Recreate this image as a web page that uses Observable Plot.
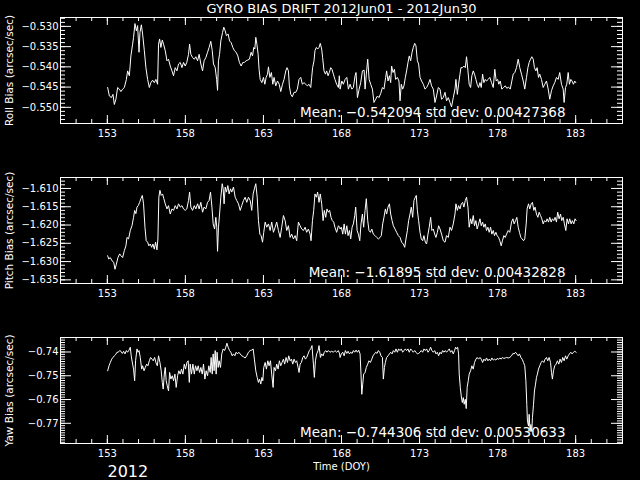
<!DOCTYPE html>
<html><head><meta charset="utf-8">
<script src="https://cdn.jsdelivr.net/npm/d3@7"></script>
<script src="https://cdn.jsdelivr.net/npm/@observablehq/plot@0.6"></script>
<style>
html,body{margin:0;padding:0;background:#000;}
#chart{width:640px;height:480px;background:#000;overflow:hidden;}
#chart svg{display:block;overflow:visible;}
</style></head><body><div id="chart"></div>
<script>
const title = "GYRO BIAS DRIFT 2012Jun01 - 2012Jun30";
const xLabel = "Time (DOY)";
const yearLabel = "2012";
const panelLabels = ["Roll Bias (arcsec/sec)", "Pitch Bias (arcsec/sec)", "Yaw Bias (arcsec/sec)"];
const means = [-0.542094, -1.61895, -0.744306];
const stdDevs = ["0.00427368", "0.00432828", "0.00530633"];
const xDomain = [150, 186];
const xMajorTicks = [153, 158, 163, 168, 173, 178, 183];
const xMinorTicks = [151,152,153,154,155,156,157,158,159,160,161,162,163,164,165,166,167,168,169,170,171,172,173,174,175,176,177,178,179,180,181,182,183,184,185];

const rollDomain = [-0.554, -0.5278];
const rollMajor = [-0.550, -0.545, -0.540, -0.535, -0.530];
const pitchDomain = [-1.636, -1.607];
const pitchMajor = [-1.635, -1.630, -1.625, -1.620, -1.615, -1.610];
const yawDomain = [-0.7785, -0.7339];
const yawMajor = [-0.77, -0.76, -0.75, -0.74];

// [day of year, bias]
const rollSeries = [[153.02,-0.5451],[153.13,-0.5472],[153.26,-0.5476],[153.36,-0.5468],[153.45,-0.5493],[153.55,-0.5480],[153.66,-0.5451],[153.77,-0.5455],[153.87,-0.5461],[153.98,-0.5455],[154.09,-0.5451],[154.22,-0.5431],[154.30,-0.5410],[154.41,-0.5422],[154.51,-0.5373],[154.62,-0.5344],[154.68,-0.5327],[154.77,-0.5293],[154.86,-0.5311],[154.94,-0.5298],[155.03,-0.5364],[155.09,-0.5315],[155.18,-0.5296],[155.26,-0.5319],[155.37,-0.5360],[155.47,-0.5402],[155.58,-0.5431],[155.69,-0.5451],[155.79,-0.5439],[155.90,-0.5433],[156.01,-0.5439],[156.11,-0.5431],[156.22,-0.5443],[156.28,-0.5344],[156.35,-0.5331],[156.43,-0.5352],[156.52,-0.5334],[156.60,-0.5344],[156.71,-0.5360],[156.82,-0.5385],[156.92,-0.5381],[157.03,-0.5398],[157.14,-0.5410],[157.24,-0.5422],[157.35,-0.5402],[157.46,-0.5410],[157.56,-0.5393],[157.67,-0.5389],[157.78,-0.5402],[157.88,-0.5389],[157.99,-0.5398],[158.09,-0.5389],[158.20,-0.5369],[158.27,-0.5344],[158.35,-0.5369],[158.46,-0.5377],[158.57,-0.5381],[158.67,-0.5375],[158.78,-0.5385],[158.88,-0.5369],[158.99,-0.5393],[159.10,-0.5410],[159.20,-0.5385],[159.31,-0.5377],[159.42,-0.5364],[159.52,-0.5352],[159.63,-0.5337],[159.72,-0.5360],[159.80,-0.5393],[159.91,-0.5402],[160.00,-0.5431],[160.06,-0.5458],[160.12,-0.5385],[160.19,-0.5369],[160.27,-0.5336],[160.38,-0.5315],[160.46,-0.5302],[160.55,-0.5311],[160.63,-0.5323],[160.74,-0.5319],[160.83,-0.5336],[160.93,-0.5340],[161.04,-0.5352],[161.14,-0.5360],[161.25,-0.5364],[161.36,-0.5373],[161.46,-0.5389],[161.57,-0.5398],[161.68,-0.5389],[161.78,-0.5389],[161.89,-0.5385],[162.00,-0.5383],[162.10,-0.5381],[162.21,-0.5364],[162.30,-0.5373],[162.38,-0.5352],[162.45,-0.5356],[162.51,-0.5327],[162.58,-0.5344],[162.66,-0.5369],[162.72,-0.5406],[162.79,-0.5431],[162.90,-0.5439],[163.00,-0.5426],[163.09,-0.5443],[163.17,-0.5426],[163.26,-0.5418],[163.32,-0.5400],[163.41,-0.5426],[163.51,-0.5414],[163.60,-0.5443],[163.68,-0.5426],[163.79,-0.5447],[163.90,-0.5435],[164.01,-0.5443],[164.11,-0.5461],[164.22,-0.5443],[164.32,-0.5431],[164.43,-0.5410],[164.51,-0.5402],[164.60,-0.5410],[164.66,-0.5447],[164.75,-0.5468],[164.85,-0.5474],[164.96,-0.5463],[165.07,-0.5463],[165.17,-0.5455],[165.28,-0.5431],[165.39,-0.5426],[165.49,-0.5443],[165.60,-0.5439],[165.71,-0.5443],[165.81,-0.5447],[165.92,-0.5443],[166.03,-0.5451],[166.09,-0.5426],[166.15,-0.5402],[166.24,-0.5385],[166.30,-0.5360],[166.39,-0.5352],[166.47,-0.5356],[166.56,-0.5352],[166.64,-0.5342],[166.73,-0.5356],[166.79,-0.5377],[166.88,-0.5410],[166.97,-0.5418],[167.05,-0.5410],[167.14,-0.5422],[167.22,-0.5414],[167.31,-0.5402],[167.39,-0.5406],[167.48,-0.5418],[167.58,-0.5431],[167.69,-0.5443],[167.80,-0.5451],[167.86,-0.5422],
[167.91,-0.5455],[168.02,-0.5435],[168.12,-0.5443],[168.23,-0.5431],[168.34,-0.5426],[168.44,-0.5455],[168.55,-0.5443],[168.66,-0.5455],[168.76,-0.5451],[168.87,-0.5422],[168.93,-0.5414],[169.02,-0.5476],[169.13,-0.5455],[169.23,-0.5439],[169.34,-0.5410],[169.45,-0.5408],[169.51,-0.5455],[169.59,-0.5418],[169.68,-0.5381],[169.77,-0.5431],[169.87,-0.5443],[169.98,-0.5455],[170.08,-0.5488],[170.19,-0.5480],[170.30,-0.5472],[170.40,-0.5476],[170.51,-0.5466],[170.62,-0.5451],[170.72,-0.5455],[170.83,-0.5426],[170.89,-0.5410],[170.98,-0.5435],[171.07,-0.5422],[171.15,-0.5439],[171.21,-0.5398],[171.30,-0.5414],[171.39,-0.5406],[171.47,-0.5431],[171.58,-0.5426],[171.68,-0.5435],[171.75,-0.5484],[171.83,-0.5443],[171.92,-0.5455],[172.00,-0.5447],[172.09,-0.5426],[172.17,-0.5410],[172.26,-0.5389],[172.34,-0.5373],[172.43,-0.5385],[172.52,-0.5364],[172.60,-0.5352],[172.69,-0.5342],[172.77,-0.5348],[172.86,-0.5385],[172.94,-0.5393],[173.03,-0.5426],[173.13,-0.5435],[173.24,-0.5443],[173.35,-0.5455],[173.45,-0.5451],[173.56,-0.5443],[173.67,-0.5431],[173.77,-0.5447],[173.88,-0.5455],[173.99,-0.5488],[174.09,-0.5472],[174.20,-0.5451],[174.31,-0.5455],[174.41,-0.5480],[174.52,-0.5476],[174.63,-0.5463],[174.73,-0.5484],[174.84,-0.5476],[174.95,-0.5488],[175.05,-0.5499],[175.16,-0.5476],[175.27,-0.5455],[175.33,-0.5431],[175.42,-0.5468],[175.50,-0.5443],[175.59,-0.5418],[175.65,-0.5402],[175.74,-0.5402],[175.84,-0.5398],[175.93,-0.5402],[176.01,-0.5375],[176.10,-0.5410],[176.18,-0.5443],[176.27,-0.5451],[176.35,-0.5422],[176.44,-0.5410],[176.52,-0.5418],[176.61,-0.5431],[176.69,-0.5443],[176.78,-0.5451],[176.87,-0.5439],[176.95,-0.5451],[177.04,-0.5418],[177.12,-0.5439],[177.21,-0.5431],[177.29,-0.5435],[177.40,-0.5431],[177.50,-0.5426],[177.61,-0.5439],[177.72,-0.5451],[177.82,-0.5406],[177.91,-0.5435],[178.00,-0.5431],[178.08,-0.5443],[178.17,-0.5435],[178.27,-0.5455],[178.38,-0.5451],[178.49,-0.5447],[178.59,-0.5453],[178.70,-0.5450],[178.81,-0.5455],[178.91,-0.5435],[179.00,-0.5418],[179.10,-0.5414],[179.21,-0.5402],[179.32,-0.5381],[179.42,-0.5402],[179.53,-0.5418],[179.64,-0.5435],[179.74,-0.5455],[179.85,-0.5426],[179.94,-0.5402],[180.02,-0.5389],[180.11,-0.5381],[180.19,-0.5375],[180.28,-0.5381],[180.36,-0.5402],[180.45,-0.5410],[180.53,-0.5402],[180.62,-0.5426],[180.70,-0.5418],[180.81,-0.5431],[180.92,-0.5451],[181.02,-0.5443],[181.13,-0.5435],[181.24,-0.5455],[181.34,-0.5480],[181.45,-0.5459],[181.56,-0.5447],[181.66,-0.5439],[181.77,-0.5426],[181.88,-0.5431],[181.98,-0.5414],[182.09,-0.5443],[182.20,-0.5455],[182.26,-0.5488],[182.35,-0.5451],[182.43,-0.5443],[182.52,-0.5414],[182.60,-0.5443],[182.69,-0.5431],[182.77,-0.5435],[182.86,-0.5443],[182.94,-0.5435],[183.01,-0.5439]];

const pitchSeries = [[153.02,-1.6284],[153.09,-1.6293],[153.19,-1.6289],[153.30,-1.6298],[153.41,-1.6302],[153.49,-1.6321],[153.58,-1.6307],[153.68,-1.6289],[153.79,-1.6279],[153.87,-1.6284],[153.98,-1.6289],[154.09,-1.6270],[154.19,-1.6257],[154.26,-1.6234],[154.36,-1.6238],[154.47,-1.6215],[154.58,-1.6202],[154.68,-1.6179],[154.75,-1.6160],[154.83,-1.6169],[154.90,-1.6151],[154.98,-1.6147],[155.07,-1.6138],[155.15,-1.6128],[155.24,-1.6119],[155.32,-1.6142],[155.41,-1.6206],[155.49,-1.6243],[155.58,-1.6247],[155.66,-1.6257],[155.75,-1.6252],[155.84,-1.6261],[155.92,-1.6252],[156.01,-1.6266],[156.09,-1.6247],[156.18,-1.6268],[156.24,-1.6238],[156.30,-1.6124],[156.37,-1.6105],[156.45,-1.6119],[156.54,-1.6115],[156.62,-1.6128],[156.71,-1.6142],[156.82,-1.6156],[156.92,-1.6147],[157.03,-1.6170],[157.14,-1.6156],[157.24,-1.6160],[157.35,-1.6147],[157.46,-1.6156],[157.56,-1.6142],[157.67,-1.6151],[157.78,-1.6147],[157.88,-1.6156],[157.99,-1.6160],[158.09,-1.6156],[158.20,-1.6133],[158.27,-1.6110],[158.35,-1.6151],[158.46,-1.6160],[158.57,-1.6147],[158.67,-1.6156],[158.78,-1.6142],[158.88,-1.6156],[158.99,-1.6138],[159.10,-1.6165],[159.20,-1.6151],[159.31,-1.6156],[159.42,-1.6138],[159.52,-1.6133],[159.61,-1.6110],[159.70,-1.6151],[159.78,-1.6197],[159.87,-1.6211],[159.95,-1.6179],[160.01,-1.6206],[160.06,-1.6272],[160.12,-1.6206],[160.19,-1.6170],[160.27,-1.6124],[160.36,-1.6087],[160.42,-1.6101],[160.48,-1.6142],[160.55,-1.6096],[160.63,-1.6110],[160.72,-1.6092],[160.80,-1.6115],[160.89,-1.6101],[160.97,-1.6110],[161.08,-1.6096],[161.19,-1.6124],[161.29,-1.6133],[161.40,-1.6142],[161.51,-1.6160],[161.61,-1.6147],[161.72,-1.6133],[161.83,-1.6124],[161.93,-1.6138],[162.04,-1.6124],[162.15,-1.6133],[162.25,-1.6160],[162.34,-1.6115],[162.42,-1.6101],[162.51,-1.6087],[162.60,-1.6124],[162.68,-1.6188],[162.77,-1.6225],[162.85,-1.6229],[162.94,-1.6247],[163.02,-1.6220],[163.11,-1.6192],[163.21,-1.6206],[163.32,-1.6197],[163.43,-1.6215],[163.53,-1.6192],[163.64,-1.6220],[163.75,-1.6206],[163.85,-1.6192],[163.96,-1.6215],[164.07,-1.6234],[164.17,-1.6206],[164.28,-1.6174],[164.39,-1.6188],[164.49,-1.6215],[164.60,-1.6202],[164.71,-1.6234],[164.81,-1.6225],[164.92,-1.6238],[165.03,-1.6229],[165.13,-1.6243],[165.24,-1.6192],[165.35,-1.6202],[165.45,-1.6211],[165.56,-1.6215],[165.67,-1.6206],[165.77,-1.6220],[165.88,-1.6211],[165.99,-1.6225],[166.05,-1.6243],[166.14,-1.6188],[166.22,-1.6160],[166.30,-1.6115],[166.39,-1.6124],[166.47,-1.6110],[166.56,-1.6138],[166.64,-1.6115],[166.73,-1.6142],[166.82,-1.6188],[166.90,-1.6160],[166.99,-1.6179],[167.07,-1.6156],[167.16,-1.6165],[167.24,-1.6160],[167.33,-1.6179],[167.41,-1.6188],[167.50,-1.6192],[167.58,-1.6206],[167.69,-1.6220],[167.80,-1.6202],[167.88,-1.6206],
[167.91,-1.6211],[167.99,-1.6206],[168.08,-1.6225],[168.17,-1.6197],[168.25,-1.6225],[168.34,-1.6202],[168.42,-1.6229],[168.51,-1.6215],[168.59,-1.6238],[168.68,-1.6206],[168.76,-1.6197],[168.85,-1.6174],[168.91,-1.6151],[169.00,-1.6215],[169.08,-1.6225],[169.17,-1.6243],[169.25,-1.6197],[169.34,-1.6170],[169.42,-1.6206],[169.51,-1.6160],[169.59,-1.6128],[169.68,-1.6188],[169.76,-1.6215],[169.85,-1.6220],[169.94,-1.6211],[170.04,-1.6225],[170.15,-1.6229],[170.26,-1.6234],[170.36,-1.6238],[170.47,-1.6234],[170.55,-1.6229],[170.64,-1.6197],[170.72,-1.6179],[170.81,-1.6156],[170.89,-1.6170],[170.98,-1.6151],[171.07,-1.6142],[171.15,-1.6170],[171.24,-1.6188],[171.32,-1.6202],[171.43,-1.6211],[171.53,-1.6220],[171.64,-1.6229],[171.75,-1.6234],[171.85,-1.6247],[171.96,-1.6252],[172.05,-1.6261],[172.13,-1.6238],[172.22,-1.6215],[172.30,-1.6188],[172.39,-1.6170],[172.47,-1.6151],[172.56,-1.6179],[172.64,-1.6133],[172.73,-1.6124],[172.79,-1.6119],[172.86,-1.6160],[172.94,-1.6188],[173.03,-1.6220],[173.11,-1.6238],[173.20,-1.6243],[173.28,-1.6229],[173.37,-1.6247],[173.45,-1.6252],[173.54,-1.6225],[173.62,-1.6206],[173.71,-1.6179],[173.79,-1.6215],[173.88,-1.6211],[173.97,-1.6225],[174.05,-1.6234],[174.14,-1.6220],[174.22,-1.6202],[174.31,-1.6211],[174.41,-1.6225],[174.52,-1.6243],[174.63,-1.6247],[174.73,-1.6229],[174.84,-1.6234],[174.95,-1.6206],[175.05,-1.6215],[175.16,-1.6197],[175.27,-1.6170],[175.33,-1.6142],[175.42,-1.6160],[175.50,-1.6147],[175.59,-1.6156],[175.67,-1.6142],[175.76,-1.6138],[175.84,-1.6151],[175.93,-1.6133],[176.01,-1.6124],[176.10,-1.6151],[176.18,-1.6206],[176.27,-1.6183],[176.35,-1.6197],[176.44,-1.6174],[176.52,-1.6202],[176.61,-1.6188],[176.69,-1.6211],[176.78,-1.6197],[176.87,-1.6183],[176.95,-1.6202],[177.04,-1.6192],[177.12,-1.6206],[177.21,-1.6197],[177.29,-1.6215],[177.38,-1.6206],[177.46,-1.6220],[177.55,-1.6206],[177.63,-1.6225],[177.72,-1.6215],[177.80,-1.6229],[177.89,-1.6220],[177.97,-1.6229],[178.06,-1.6234],[178.14,-1.6243],[178.23,-1.6257],[178.31,-1.6243],[178.40,-1.6229],[178.49,-1.6234],[178.57,-1.6225],[178.68,-1.6215],[178.78,-1.6220],[178.89,-1.6192],[178.98,-1.6183],[179.06,-1.6197],[179.15,-1.6188],[179.23,-1.6179],[179.32,-1.6206],[179.40,-1.6220],[179.49,-1.6234],[179.57,-1.6238],[179.66,-1.6243],[179.74,-1.6238],[179.83,-1.6197],[179.89,-1.6156],[179.98,-1.6142],[180.06,-1.6156],[180.15,-1.6142],[180.23,-1.6138],[180.32,-1.6160],[180.40,-1.6151],[180.49,-1.6170],[180.58,-1.6179],[180.66,-1.6165],[180.75,-1.6174],[180.83,-1.6183],[180.92,-1.6197],[181.00,-1.6188],[181.09,-1.6192],[181.17,-1.6183],[181.26,-1.6192],[181.34,-1.6179],[181.43,-1.6192],[181.51,-1.6183],[181.60,-1.6188],[181.68,-1.6179],[181.77,-1.6192],[181.85,-1.6165],[181.94,-1.6183],[182.03,-1.6170],[182.11,-1.6188],[182.20,-1.6179],[182.28,-1.6197],[182.37,-1.6215],[182.45,-1.6183],[182.54,-1.6197],[182.62,-1.6183],[182.71,-1.6197],[182.79,-1.6188],[182.88,-1.6197],[182.96,-1.6183],[183.03,-1.6188]];

const yawSeries = [[153.02,-0.7479],[153.11,-0.7458],[153.19,-0.7444],[153.28,-0.7430],[153.36,-0.7423],[153.45,-0.7416],[153.53,-0.7411],[153.62,-0.7401],[153.70,-0.7401],[153.79,-0.7394],[153.87,-0.7397],[153.96,-0.7406],[154.04,-0.7397],[154.13,-0.7408],[154.22,-0.7394],[154.30,-0.7401],[154.39,-0.7392],[154.47,-0.7380],[154.53,-0.7416],[154.62,-0.7451],[154.68,-0.7472],[154.75,-0.7521],[154.81,-0.7437],[154.90,-0.7387],[154.96,-0.7401],[155.03,-0.7394],[155.11,-0.7423],[155.20,-0.7472],[155.26,-0.7458],[155.35,-0.7479],[155.43,-0.7465],[155.52,-0.7451],[155.60,-0.7458],[155.69,-0.7437],[155.77,-0.7423],[155.86,-0.7430],[155.94,-0.7437],[156.03,-0.7423],[156.11,-0.7444],[156.20,-0.7458],[156.28,-0.7416],[156.37,-0.7444],[156.45,-0.7479],[156.52,-0.7528],[156.58,-0.7556],[156.65,-0.7493],[156.71,-0.7465],[156.77,-0.7521],[156.84,-0.7542],[156.92,-0.7564],[156.99,-0.7486],[157.07,-0.7514],[157.16,-0.7500],[157.24,-0.7521],[157.33,-0.7493],[157.41,-0.7549],[157.50,-0.7500],[157.58,-0.7479],[157.67,-0.7493],[157.75,-0.7472],[157.84,-0.7493],[157.93,-0.7451],[158.01,-0.7472],[158.10,-0.7444],[158.18,-0.7437],[158.25,-0.7528],[158.31,-0.7451],[158.39,-0.7493],[158.48,-0.7451],[158.57,-0.7493],[158.65,-0.7458],[158.74,-0.7479],[158.82,-0.7458],[158.91,-0.7486],[158.99,-0.7465],[159.08,-0.7493],[159.16,-0.7451],[159.25,-0.7514],[159.33,-0.7479],[159.42,-0.7500],[159.50,-0.7458],[159.59,-0.7486],[159.65,-0.7423],[159.72,-0.7493],[159.78,-0.7408],[159.84,-0.7479],[159.91,-0.7394],[159.97,-0.7493],[160.03,-0.7401],[160.10,-0.7465],[160.16,-0.7437],[160.25,-0.7465],[160.33,-0.7408],[160.42,-0.7387],[160.51,-0.7394],[160.59,-0.7380],[160.66,-0.7363],[160.74,-0.7380],[160.83,-0.7394],[160.91,-0.7401],[161.00,-0.7416],[161.08,-0.7408],[161.17,-0.7416],[161.25,-0.7401],[161.34,-0.7408],[161.42,-0.7401],[161.51,-0.7408],[161.61,-0.7416],[161.72,-0.7420],[161.83,-0.7425],[161.93,-0.7416],[162.04,-0.7401],[162.15,-0.7394],[162.25,-0.7392],[162.34,-0.7387],[162.42,-0.7430],[162.51,-0.7479],[162.60,-0.7507],[162.68,-0.7528],[162.75,-0.7514],[162.83,-0.7535],[162.90,-0.7507],[162.96,-0.7521],[163.02,-0.7465],[163.11,-0.7444],[163.19,-0.7472],[163.28,-0.7437],[163.36,-0.7458],[163.45,-0.7437],[163.53,-0.7493],[163.62,-0.7549],[163.68,-0.7465],[163.77,-0.7479],[163.85,-0.7451],[163.94,-0.7472],[164.02,-0.7437],[164.11,-0.7458],[164.19,-0.7444],[164.28,-0.7430],[164.36,-0.7451],[164.45,-0.7423],[164.54,-0.7444],[164.62,-0.7416],[164.71,-0.7437],[164.79,-0.7430],[164.88,-0.7451],[164.96,-0.7430],[165.05,-0.7444],[165.13,-0.7437],[165.22,-0.7465],[165.28,-0.7486],[165.35,-0.7451],[165.43,-0.7444],[165.52,-0.7423],[165.60,-0.7416],[165.69,-0.7430],[165.77,-0.7423],[165.86,-0.7408],[165.94,-0.7394],[166.03,-0.7387],[166.11,-0.7373],[166.20,-0.7451],[166.26,-0.7507],[166.33,-0.7437],[166.41,-0.7408],[166.50,-0.7394],[166.56,-0.7373],[166.65,-0.7423],[166.73,-0.7408],[166.82,-0.7416],[166.90,-0.7401],[166.99,-0.7394],[167.07,-0.7401],[167.16,-0.7394],[167.26,-0.7401],[167.37,-0.7397],[167.48,-0.7401],[167.58,-0.7394],[167.69,-0.7401],[167.80,-0.7394],[167.88,-0.7408],
[167.91,-0.7423],[167.99,-0.7408],[168.08,-0.7401],[168.17,-0.7416],[168.25,-0.7394],[168.34,-0.7406],[168.42,-0.7397],[168.51,-0.7408],[168.59,-0.7401],[168.68,-0.7406],[168.76,-0.7394],[168.85,-0.7401],[168.93,-0.7392],[169.02,-0.7401],[169.10,-0.7392],[169.19,-0.7408],[169.25,-0.7493],[169.30,-0.7578],[169.36,-0.7535],[169.42,-0.7493],[169.51,-0.7486],[169.59,-0.7465],[169.68,-0.7451],[169.76,-0.7437],[169.85,-0.7444],[169.94,-0.7430],[170.02,-0.7416],[170.11,-0.7408],[170.19,-0.7401],[170.28,-0.7406],[170.36,-0.7394],[170.45,-0.7401],[170.53,-0.7416],[170.62,-0.7423],[170.68,-0.7514],[170.75,-0.7465],[170.81,-0.7444],[170.89,-0.7423],[170.98,-0.7416],[171.07,-0.7408],[171.15,-0.7401],[171.24,-0.7408],[171.32,-0.7394],[171.41,-0.7401],[171.49,-0.7387],[171.58,-0.7401],[171.66,-0.7387],[171.75,-0.7394],[171.83,-0.7387],[171.92,-0.7401],[172.00,-0.7394],[172.09,-0.7387],[172.17,-0.7394],[172.26,-0.7387],[172.34,-0.7401],[172.43,-0.7387],[172.52,-0.7394],[172.60,-0.7401],[172.69,-0.7394],[172.77,-0.7401],[172.86,-0.7408],[172.94,-0.7406],[173.03,-0.7401],[173.11,-0.7394],[173.20,-0.7401],[173.28,-0.7387],[173.37,-0.7394],[173.45,-0.7387],[173.54,-0.7401],[173.62,-0.7394],[173.71,-0.7380],[173.79,-0.7394],[173.88,-0.7401],[173.97,-0.7394],[174.05,-0.7408],[174.14,-0.7401],[174.22,-0.7416],[174.31,-0.7401],[174.39,-0.7408],[174.48,-0.7394],[174.56,-0.7401],[174.65,-0.7394],[174.73,-0.7401],[174.82,-0.7394],[174.90,-0.7387],[174.99,-0.7401],[175.07,-0.7394],[175.16,-0.7408],[175.24,-0.7394],[175.31,-0.7380],[175.37,-0.7387],[175.44,-0.7380],[175.50,-0.7408],[175.54,-0.7493],[175.61,-0.7549],[175.67,-0.7585],[175.74,-0.7613],[175.80,-0.7592],[175.86,-0.7620],[175.93,-0.7599],[175.99,-0.7638],[176.05,-0.7549],[176.12,-0.7521],[176.18,-0.7493],[176.27,-0.7479],[176.35,-0.7458],[176.44,-0.7472],[176.52,-0.7444],[176.61,-0.7430],[176.69,-0.7423],[176.78,-0.7430],[176.87,-0.7423],[176.95,-0.7430],[177.04,-0.7444],[177.12,-0.7430],[177.21,-0.7437],[177.29,-0.7425],[177.38,-0.7437],[177.46,-0.7430],[177.55,-0.7437],[177.63,-0.7425],[177.72,-0.7434],[177.80,-0.7430],[177.89,-0.7434],[177.97,-0.7427],[178.06,-0.7431],[178.14,-0.7425],[178.23,-0.7430],[178.31,-0.7423],[178.40,-0.7427],[178.49,-0.7425],[178.57,-0.7423],[178.68,-0.7425],[178.78,-0.7423],[178.89,-0.7416],[178.98,-0.7406],[179.06,-0.7408],[179.15,-0.7401],[179.23,-0.7408],[179.32,-0.7416],[179.40,-0.7408],[179.49,-0.7423],[179.57,-0.7430],[179.66,-0.7444],[179.74,-0.7458],[179.81,-0.7521],[179.87,-0.7620],[179.91,-0.7691],[179.98,-0.7712],[180.02,-0.7662],[180.08,-0.7735],[180.13,-0.7705],[180.19,-0.7735],[180.23,-0.7676],[180.30,-0.7620],[180.36,-0.7564],[180.43,-0.7535],[180.49,-0.7507],[180.55,-0.7493],[180.62,-0.7472],[180.70,-0.7458],[180.79,-0.7444],[180.87,-0.7437],[180.96,-0.7444],[181.04,-0.7430],[181.13,-0.7423],[181.21,-0.7437],[181.30,-0.7423],[181.39,-0.7444],[181.45,-0.7486],[181.51,-0.7514],[181.58,-0.7479],[181.66,-0.7458],[181.75,-0.7451],[181.83,-0.7437],[181.92,-0.7451],[182.00,-0.7430],[182.09,-0.7444],[182.17,-0.7423],[182.26,-0.7437],[182.35,-0.7416],[182.43,-0.7430],[182.52,-0.7416],[182.60,-0.7408],[182.69,-0.7401],[182.77,-0.7408],[182.86,-0.7401],[182.94,-0.7397],[183.03,-0.7401]];

const W = 640, H = 160, mT = 17, mB = 37, mL = 60, mR = 18;
const frameW = W - mL - mR, frameH = H - mT - mB;
const FONT = "DejaVu Sans";

function minorTicks(domain, step) {
  const lo = Math.ceil(domain[0] / step - 1e-9), hi = Math.floor(domain[1] / step + 1e-9);
  return d3.range(lo, hi + 1).map(k => +(k * step).toFixed(6));
}

function panel({series, domain, major, minorStep, fmt, label, mean, std, extra}) {
  const yMinor = minorTicks(domain, minorStep);
  const meanText = `Mean: ${d3.format("")(mean)} std dev: ${std}`;
  return Plot.plot({
    width: W, height: H,
    marginTop: mT, marginBottom: mB, marginLeft: mL, marginRight: mR,
    style: {background: "black", color: "white", fontFamily: FONT, fontSize: "10px", overflow: "visible"},
    x: {domain: xDomain},
    y: {domain},
    marks: [
      Plot.frame({stroke: "white", strokeWidth: 1}),
      Plot.tickY(yMinor, {y: d => d, stroke: "white", insetRight: frameW - 5}),
      Plot.tickY(yMinor, {y: d => d, stroke: "white", insetLeft: frameW - 5}),
      Plot.tickY(major, {y: d => d, stroke: "white", insetRight: frameW - 11}),
      Plot.tickY(major, {y: d => d, stroke: "white", insetLeft: frameW - 11}),
      Plot.tickX(xMinorTicks, {x: d => d, stroke: "white", insetTop: frameH - 4}),
      Plot.tickX(xMinorTicks, {x: d => d, stroke: "white", insetBottom: frameH - 4}),
      Plot.tickX(xMajorTicks, {x: d => d, stroke: "white", insetTop: frameH - 8}),
      Plot.tickX(xMajorTicks, {x: d => d, stroke: "white", insetBottom: frameH - 8}),
      Plot.axisY({ticks: major, tickSize: 0, tickPadding: 2, tickFormat: d3.format(fmt), fontSize: 10, label: null}),
      Plot.axisX({ticks: xMajorTicks, tickSize: 0, tickPadding: 6, tickFormat: d => String(d), fontSize: 10, label: null}),
      Plot.line(series, {x: d => d[0], y: d => d[1], stroke: "white", strokeWidth: 1}),
      Plot.text([label], {text: d => d, frameAnchor: "left", dx: -51, rotate: -90, textAnchor: "middle", lineAnchor: "middle", fontSize: 10.5, fill: "white"}),
      Plot.text([meanText], {text: d => d, frameAnchor: "bottom-right", dx: -57, dy: -11, textAnchor: "end", lineAnchor: "middle", fontSize: 13.5, fill: "white"}),
      ...(extra || [])
    ]
  });
}

const chart = document.getElementById("chart");
chart.append(panel({
  series: rollSeries, domain: rollDomain, major: rollMajor, minorStep: 0.001, fmt: ".3f",
  label: panelLabels[0], mean: means[0], std: stdDevs[0],
  extra: [Plot.text([title], {text: d => d, frameAnchor: "top", dy: -9, lineAnchor: "middle", fontSize: 13, fill: "white"})]
}));
chart.append(panel({
  series: pitchSeries, domain: pitchDomain, major: pitchMajor, minorStep: 0.001, fmt: ".3f",
  label: panelLabels[1], mean: means[1], std: stdDevs[1]
}));
chart.append(panel({
  series: yawSeries, domain: yawDomain, major: yawMajor, minorStep: 0.001, fmt: ".2f",
  label: panelLabels[2], mean: means[2], std: stdDevs[2],
  extra: [
    Plot.text([xLabel], {text: d => d, frameAnchor: "bottom", dy: 23, lineAnchor: "middle", fontSize: 10, fill: "white"}),
    Plot.text([yearLabel], {text: d => d, frameAnchor: "bottom-left", dx: 47, dy: 33, textAnchor: "start", lineAnchor: "bottom", fontSize: 16, fill: "white"})
  ]
}));
</script></body></html>
